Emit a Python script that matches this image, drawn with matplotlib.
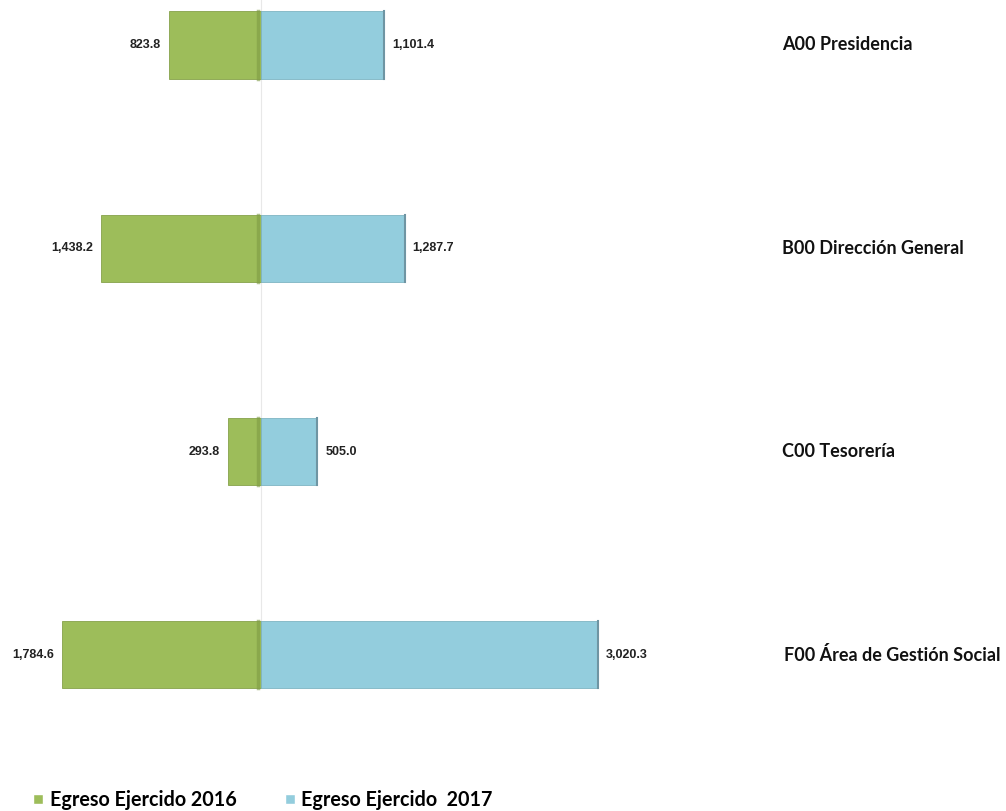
import matplotlib
matplotlib.use("Agg")
import matplotlib.pyplot as plt
from matplotlib.lines import Line2D

categories = ["A00 Presidencia", "B00 Dirección General", "C00 Tesorería", "F00 Área de Gestión Social"]
egreso_2016 = [823.8, 1438.2, 293.8, 1784.6]
egreso_2017 = [1101.4, 1287.7, 505.0, 3020.3]
series_names = ["Egreso Ejercido 2016", "Egreso Ejercido  2017"]

green = "#9DBD5A"
blue = "#93CDDD"

fig = plt.figure(figsize=(10.06, 8.11), dpi=100)
ax = fig.add_axes([0, 0, 1, 1])
scale = 0.1115
ax.set_xlim(-261 / scale, (1006 - 261) / scale)
sp = 203.3
ax.set_ylim((811 - 45) / sp, -45 / sp)
ax.axis("off")

ypos = list(range(len(categories)))
h = 0.33
ax.axvline(0, ymin=(811 - 620) / 811, ymax=1, color="#e8e8e8", lw=0.8, zorder=0)
ax.barh(ypos, [-v for v in egreso_2016], height=h, color=green,
        edgecolor="#86a24b", linewidth=0.6, zorder=2)
ax.barh(ypos, egreso_2017, height=h, color=blue,
        edgecolor="#7fb4c3", linewidth=0.6, zorder=2)
# darker ends for a bevelled look
for y, v in zip(ypos, egreso_2017):
    ax.plot([v, v], [y - h / 2, y + h / 2], color="#6f95a3", lw=1.5, zorder=3)
for y in ypos:
    ax.plot([-25, -25], [y - h / 2, y + h / 2], color="#7e9a44", lw=2.5, zorder=3, alpha=0.6)

off = 8 / scale
lab_font = dict(fontsize=9, fontweight="bold", family="Liberation Sans", color="#222222")
for y, a, b in zip(ypos, egreso_2016, egreso_2017):
    ax.text(-a - off, y, f"{a:,.1f}", ha="right", va="center", **lab_font)
    ax.text(b + off, y, f"{b:,.1f}", ha="left", va="center", **lab_font)

fig.canvas.draw()
renderer = fig.canvas.get_renderer()
for y, c in zip(ypos, categories):
    t = ax.text((782 - 261) / scale, y, c, ha="left", va="center", fontsize=13,
                fontweight="bold", family="Lato", color="#111111")
    bb = t.get_window_extent(renderer)
    if bb.x1 > 990:
        t.set_x((1000 - bb.width - 261) / scale)

handles = [Line2D([0], [0], marker="s", color="w", markerfacecolor=green, markersize=7),
           Line2D([0], [0], marker="s", color="w", markerfacecolor=blue, markersize=7)]
fig.legend(handles, series_names, loc="center left", bbox_to_anchor=(0.012, 1 - 800 / 811),
           ncol=2, frameon=False, handlelength=0.8, handletextpad=0.2, columnspacing=2.3,
           prop={"family": "Lato", "weight": "bold", "size": 14.2})

fig.savefig("out.png", dpi=100, facecolor="white")
